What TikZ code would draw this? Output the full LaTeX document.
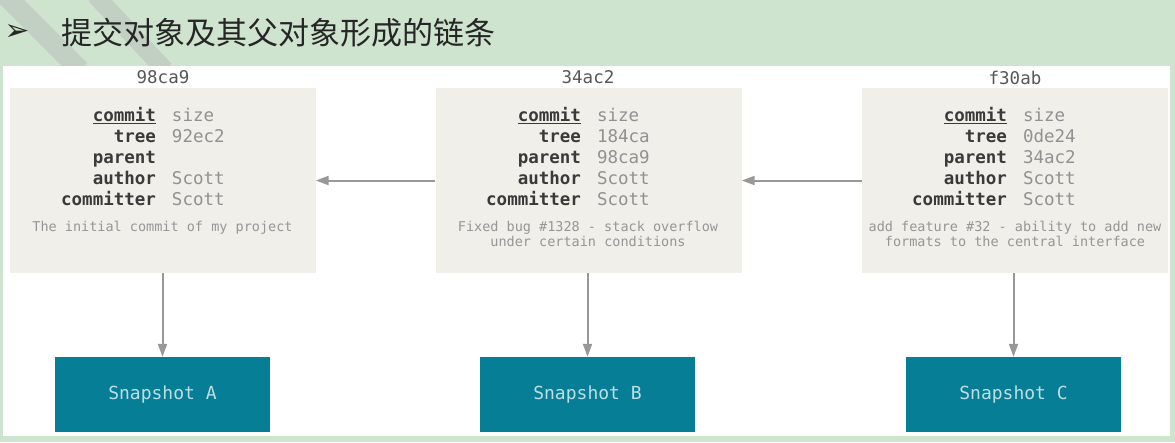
\documentclass[tikz,border=0pt]{standalone}
\usepackage{fontspec}
\setmonofont{DejaVu Sans Mono}
\newfontfamily\cjk{Noto Sans CJK SC}
\newfontfamily\dingfont{DejaVu Sans}
\usetikzlibrary{arrows.meta}
\definecolor{slidegreen}{RGB}{207,228,206}
\definecolor{bandgray}{RGB}{194,208,195}
\definecolor{boxgray}{RGB}{240,239,234}
\definecolor{keygray}{RGB}{58,58,58}
\definecolor{valgray}{RGB}{145,145,145}
\definecolor{msggray}{RGB}{150,150,150}
\definecolor{snapteal}{RGB}{6,126,150}
\definecolor{snaptext}{RGB}{190,222,230}
\definecolor{linkgray}{RGB}{152,152,152}
\newcommand{\fkey}[1]{\makebox[140pt][r]{\bfseries\color{keygray}#1}}
\newcommand{\fval}[1]{\makebox[140pt][l]{\color{valgray}#1}}
\begin{document}
\begin{tikzpicture}[x=1pt,y=-1pt,
    commit/.style={fill=boxgray, minimum width=306pt, minimum height=185pt, inner sep=0pt},
    hash/.style={font=\fontsize{17.5}{21}\selectfont\ttfamily, text=keygray!85, inner sep=0pt},
    fields/.style={font=\fontsize{17.5}{21}\selectfont\ttfamily, inner sep=0pt, anchor=north},
    msg/.style={font=\fontsize{13.5}{15}\selectfont\ttfamily, text=msggray, align=center, inner sep=0pt, anchor=north},
    snapshot/.style={fill=snapteal, minimum width=215pt, minimum height=75pt, inner sep=0pt,
      text=snaptext, font=\fontsize{18}{21}\selectfont\ttfamily},
    link/.style={draw=linkgray, line width=2pt, -{Triangle[length=13pt,width=9pt]}}]
        \useasboundingbox (0,0) rectangle (1175,442);
        \fill[slidegreen] (0,0) rectangle (1175,442);
        \begin{scope}
          \clip (0,0) rectangle (1175,66);
          \draw[bandgray, line width=20pt] (5,-5) -- (80,70);
          \draw[bandgray, line width=18pt] (95,-5) -- (165,70);
        \end{scope}
        \fill[white] (3,66) rectangle (1170,436);
        % title
        \node[inner sep=0pt, font=\dingfont\bfseries\fontsize{30}{30}\selectfont, text=black!85] (bullet) at (17,33) {➢};
        \node[inner sep=0pt, anchor=west, font=\cjk\fontsize{31}{31}\selectfont, text=black!85] (title) at (61,33) {提交对象及其父对象形成的链条};
        % commits
        \node[commit] (c1) at (162.5,180.5) {};
        \node[commit] (c2) at (588.5,180.5) {};
        \node[commit] (c3) at (1015,180.5) {};
        \node[hash] (h1) at (163,77) {98ca9};
        \node[hash] (h2) at (588,77) {34ac2};
        \node[hash] (h3) at (1015,78) {f30ab};
        \node[fields] (f1) at (164,107) {\begin{tabular}{@{}r@{\hspace{16pt}}l@{}}
          \fkey{\underline{commit}} & \fval{size}\\
          \fkey{tree} & \fval{92ec2}\\
          \fkey{parent} & \fval{}\\
          \fkey{author} & \fval{Scott}\\
          \fkey{committer} & \fval{Scott}
        \end{tabular}};
        \node[fields] (f2) at (589,107) {\begin{tabular}{@{}r@{\hspace{16pt}}l@{}}
          \fkey{\underline{commit}} & \fval{size}\\
          \fkey{tree} & \fval{184ca}\\
          \fkey{parent} & \fval{98ca9}\\
          \fkey{author} & \fval{Scott}\\
          \fkey{committer} & \fval{Scott}
        \end{tabular}};
        \node[fields] (f3) at (1015,107) {\begin{tabular}{@{}r@{\hspace{16pt}}l@{}}
          \fkey{\underline{commit}} & \fval{size}\\
          \fkey{tree} & \fval{0de24}\\
          \fkey{parent} & \fval{34ac2}\\
          \fkey{author} & \fval{Scott}\\
          \fkey{committer} & \fval{Scott}
        \end{tabular}};
        \node[msg] (m1) at (162.5,221) {The initial commit of my project};
        \node[msg] (m2) at (588,221) {Fixed bug \#1328 - stack overflow\\under certain conditions};
        \node[msg] (m3) at (1015,221) {add feature \#32 - ability to add new\\formats to the central interface};
        % snapshots
        \node[snapshot] (s1) at (162.5,394.5) {Snapshot A};
        \node[snapshot] (s2) at (587.5,394.5) {Snapshot B};
        \node[snapshot] (s3) at (1013.5,394.5) {Snapshot C};
        % links
        \draw[link] (c2.west) -- (c1.east);
        \draw[link] (c3.west) -- (c2.east);
        \draw[link] (c1.south -| s1.north) -- (s1.north);
        \draw[link] (c2.south -| s2.north) -- (s2.north);
        \draw[link] (c3.south -| s3.north) -- (s3.north);
      \end{tikzpicture}
\end{document}
